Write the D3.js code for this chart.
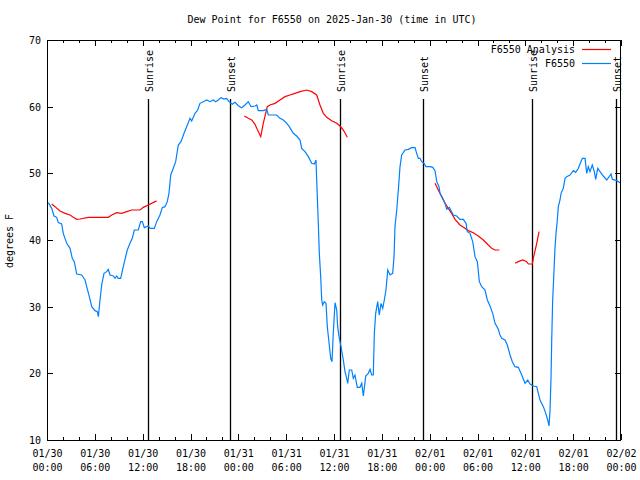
<!DOCTYPE html>
<html>
<head>
<meta charset="utf-8">
<script src="https://cdn.jsdelivr.net/npm/d3@7"></script>
<style>
  html, body { margin: 0; padding: 0; background: #fff; }
  svg { display: block; }
  text { font-family: "DejaVu Sans Mono", "Liberation Mono", monospace; font-size: 10px; fill: #000; }
</style>
</head>
<body>
<svg id="chart" width="640" height="480"></svg>
<script>
// ---- data (hours after 2025-01-30 00:00 UTC, dew point in °F) ----
const stationHours = [0.16,0.59,0.88,1.22,1.42,1.84,2.04,2.47,2.89,3.17,3.42,3.73,4.35,4.77,4.98,5.31,5.61,6.02,6.31,6.44,6.65,6.86,7.15,7.49,7.69,7.90,8.32,8.53,8.74,8.94,9.24,9.57,10.07,10.41,10.70,10.95,11.45,11.75,11.95,12.21,12.71,12.92,13.46,13.76,14.17,14.46,14.80,15.09,15.30,15.52,15.84,16.14,16.47,16.81,17.19,17.52,17.94,18.15,18.57,18.90,19.19,19.61,20.03,20.45,20.86,21.16,21.49,21.83,22.20,22.54,22.83,23.24,23.58,24.00,24.42,24.84,25.25,25.59,26.09,26.31,26.51,27.13,27.56,27.76,28.81,29.23,29.64,30.07,30.39,30.90,31.32,31.74,31.95,32.36,32.78,33.20,33.53,33.74,33.83,34.03,34.16,34.33,34.46,34.58,34.78,35.00,35.16,35.34,35.59,35.75,35.91,36.13,36.34,36.46,36.63,36.84,37.17,37.38,37.59,37.72,37.92,38.22,38.42,38.63,38.92,39.26,39.48,39.68,39.98,40.30,40.52,40.73,40.93,41.06,41.23,41.48,41.68,41.90,42.11,42.31,42.52,42.74,43.03,43.36,43.53,43.65,43.87,44.07,44.28,44.49,44.91,45.32,45.75,46.16,46.37,46.58,46.79,47.00,47.29,47.54,48.04,48.38,48.67,48.89,49.17,49.30,49.64,49.93,50.14,50.46,50.76,50.96,51.39,51.80,52.22,52.56,52.72,53.06,53.40,53.69,53.98,54.23,54.53,54.94,55.23,55.57,55.91,56.20,56.61,56.82,57.04,57.45,57.74,58.08,58.37,58.70,59.12,59.55,59.96,60.30,60.59,61.00,61.43,61.63,61.84,62.26,62.56,62.81,62.97,63.10,63.22,63.31,63.43,63.60,63.72,63.85,64.01,64.14,64.35,64.48,64.76,64.98,65.19,65.60,66.02,66.32,66.65,66.86,67.15,67.49,67.70,67.90,68.11,68.40,68.65,68.83,69.08,69.37,69.78,70.21,70.75,70.91,71.46,71.88];
const stationDew = [45.6,44.75,43.6,43.4,42.6,42.4,41.0,39.5,38.75,37.25,36.75,34.9,34.75,34.0,33.0,31.5,30.0,29.4,29.25,28.5,31.0,33.25,35.0,35.25,35.6,34.75,34.6,34.25,34.6,34.25,34.25,36.0,38.5,39.5,40.25,41.5,41.5,42.75,42.75,41.85,42.1,41.75,41.75,42.75,43.75,44.85,45.0,45.75,47.0,49.75,50.75,51.75,54.25,54.75,56.0,57.0,58.25,57.85,59.0,59.5,60.5,60.75,61.0,60.75,61.0,60.75,61.0,61.35,61.15,61.25,60.75,60.35,60.65,60.15,59.85,60.25,60.75,60.0,60.1,60.25,59.4,59.4,59.6,58.75,58.75,58.25,58.0,57.5,57.0,56.0,55.6,55.0,53.75,53.25,52.5,51.5,51.4,52.0,49.0,42.5,38.0,34.5,31.0,30.25,30.75,30.5,27.0,25.0,22.25,21.75,26.0,30.6,29.5,27.0,25.5,24.25,22.0,20.25,19.25,18.5,20.5,20.5,19.25,19.75,17.9,17.9,18.5,16.6,19.6,20.0,20.6,19.75,19.75,26.0,29.0,30.75,28.75,30.5,29.75,31.0,32.5,35.5,34.75,35.0,37.5,42.0,44.5,47.5,51.0,52.75,53.5,53.6,53.85,53.85,53.0,52.25,52.25,51.75,51.5,51.0,51.0,50.9,50.4,48.75,48.0,47.0,46.25,45.5,44.6,44.9,44.25,43.75,43.6,43.1,43.1,42.5,41.25,41.0,39.75,37.5,36.75,33.75,33.0,32.5,31.0,30.1,29.0,27.5,26.6,25.75,25.25,25.0,24.25,22.75,21.75,21.0,20.9,19.75,18.5,19.0,18.4,18.1,18.0,17.0,16.0,15.0,14.0,13.0,12.1,14.5,19.25,25.0,31.0,35.5,38.75,41.0,43.0,45.0,46.0,47.0,47.75,49.25,49.5,49.75,50.4,50.15,50.75,51.4,52.25,52.25,50.0,51.0,50.25,51.25,50.25,49.1,50.75,50.25,49.6,49.0,49.9,49.1,48.9,48.6];

// analysis series; null marks a gap in the line
const analysisHours = [0.59,1.00,1.63,2.26,2.89,3.30,3.73,4.14,5.18,7.69,8.12,8.74,9.37,10.00,10.62,11.67,12.08,12.71,13.55,13.76,
  19.0,
  24.75,25.25,25.68,26.09,26.31,26.81,27.13,27.63,27.97,28.60,29.23,29.85,30.48,31.11,31.74,32.58,33.20,33.83,34.24,34.66,35.09,35.71,36.34,36.75,37.17,37.67,
  43.0,
  48.67,49.08,49.51,49.93,50.34,50.76,51.18,51.80,52.43,52.85,53.47,54.10,54.73,55.23,55.78,56.20,56.74,
  57.7,
  58.70,59.12,59.67,60.17,60.38,60.88,61.00,61.43,61.72];
const analysisDew = [45.4,45.0,44.35,44.0,43.75,43.4,43.1,43.15,43.4,43.4,43.75,44.1,44.0,44.25,44.5,44.5,44.9,45.25,45.75,45.85,
  null,
  58.6,58.25,58.0,57.35,56.75,55.5,57.5,60.0,60.25,60.5,61.0,61.5,61.75,62.0,62.25,62.5,62.25,61.75,60.25,59.0,58.4,57.9,57.5,57.1,56.5,55.4,
  null,
  48.5,47.5,46.5,45.5,44.75,44.0,43.1,42.25,41.75,41.4,41.1,40.6,40.0,39.4,38.75,38.5,38.5,
  null,
  36.5,36.75,37.0,36.75,36.4,36.4,37.25,39.5,41.25];

// sun events (hours after start)
const sunHours = [12.71, 22.98, 36.79, 47.20, 60.87, 71.34];
const sunLabels = ["Sunrise", "Sunset", "Sunrise", "Sunset", "Sunrise", "Sunset"];

const yTicks = [10, 20, 30, 40, 50, 60, 70];
const seriesNames = ["F6550 Analysis", "F6550"];
const seriesColors = ["#ff0000", "#0080ff"];
const titleText = "Dew Point for F6550 on 2025-Jan-30 (time in UTC)";
const yLabelText = "degrees F";

// ---- drawing ----
const t0 = Date.UTC(2025, 0, 30);
const toDate = h => new Date(t0 + h * 3600000);
const L = 47, R = 621, T = 40, B = 440;

const svg = d3.select("#chart");
const x = d3.scaleUtc().domain([toDate(0), toDate(72)]).range([L, R]);
const y = d3.scaleLinear().domain([10, 70]).range([B, T]);

const majorTicks = d3.range(0, 73, 6).map(toDate);
const minorTicks = d3.range(0, 73, 2).filter(h => h % 6 !== 0).map(toDate);

function styleAxis(g) {
  g.select(".domain").remove();
  g.selectAll("line").attr("stroke", "#000").attr("shape-rendering", "crispEdges");
}

// bottom axis (major, inward ticks)
const gB = svg.append("g").attr("transform", `translate(0,${B})`)
  .call(d3.axisBottom(x).tickValues(majorTicks).tickSizeInner(-6).tickSizeOuter(0).tickFormat(""))
  .call(styleAxis);
gB.selectAll(".tick text").remove();
gB.selectAll(".tick").each(function(d) {
  const t = d3.select(this).append("text").attr("text-anchor", "middle").attr("y", 17);
  t.append("tspan").attr("x", 0).text(d3.utcFormat("%m/%d")(d));
  t.append("tspan").attr("x", 0).attr("dy", 14).text(d3.utcFormat("%H:%M")(d));
});
svg.append("g").attr("transform", `translate(0,${B})`)
  .call(d3.axisBottom(x).tickValues(minorTicks).tickSizeInner(-3).tickSizeOuter(0).tickFormat(""))
  .call(styleAxis);
// top axis (mirror)
svg.append("g").attr("transform", `translate(0,${T})`)
  .call(d3.axisTop(x).tickValues(majorTicks).tickSizeInner(-6).tickSizeOuter(0).tickFormat(""))
  .call(styleAxis);
svg.append("g").attr("transform", `translate(0,${T})`)
  .call(d3.axisTop(x).tickValues(minorTicks).tickSizeInner(-3).tickSizeOuter(0).tickFormat(""))
  .call(styleAxis);
// left axis
const gL = svg.append("g").attr("transform", `translate(${L},0)`)
  .call(d3.axisLeft(y).tickValues(yTicks).tickSizeInner(-6).tickSizeOuter(0).tickPadding(6).tickFormat(d3.format("d")))
  .call(styleAxis);
gL.selectAll(".tick text").attr("x", -6).attr("dy", "0.35em").style("font-family", null).style("font-size", null)
  .attr("font-family", null).attr("font-size", null);
// right axis (mirror)
svg.append("g").attr("transform", `translate(${R},0)`)
  .call(d3.axisRight(y).tickValues(yTicks).tickSizeInner(-6).tickSizeOuter(0).tickFormat(""))
  .call(styleAxis);

svg.selectAll("g").attr("font-family", null).attr("font-size", null);

// sun lines
const sunG = svg.append("g");
sunHours.forEach((h, i) => {
  const xp = Math.round(x(toDate(h))) + 0.5;
  sunG.append("line").attr("x1", xp).attr("x2", xp).attr("y1", 99).attr("y2", B)
    .attr("stroke", "#000").attr("stroke-width", 1.3);
  sunG.append("text").attr("transform", `translate(${xp + 1},92) rotate(-90)`)
    .attr("dy", "0.35em").attr("text-anchor", "start").text(sunLabels[i]);
});

// series lines
const line = d3.line()
  .defined(d => d.v !== null)
  .x(d => x(toDate(d.h)))
  .y(d => y(d.v));

const analysisData = analysisHours.map((h, i) => ({ h, v: analysisDew[i] }));
const stationData = stationHours.map((h, i) => ({ h, v: stationDew[i] }));

svg.append("path").datum(analysisData).attr("d", line)
  .attr("fill", "none").attr("stroke", seriesColors[0]).attr("stroke-width", 1.2);
svg.append("path").datum(stationData).attr("d", line)
  .attr("fill", "none").attr("stroke", seriesColors[1]).attr("stroke-width", 1.2);

// border
svg.append("rect").attr("x", L + 0.5).attr("y", T + 0.5).attr("width", R - L - 1).attr("height", B - T)
  .attr("fill", "none").attr("stroke", "#000").attr("shape-rendering", "crispEdges");

// legend
seriesNames.forEach((name, i) => {
  const ly = 49 + i * 14;
  svg.append("text").attr("x", 575).attr("y", ly).attr("dy", "0.35em").attr("text-anchor", "end").text(name);
  svg.append("line").attr("x1", 582).attr("x2", 611).attr("y1", ly + 0.5).attr("y2", ly + 0.5)
    .attr("stroke", seriesColors[i]).attr("stroke-width", 1.2);
});

// title
svg.append("text").attr("x", 332).attr("y", 23).attr("text-anchor", "middle").text(titleText);

// y label
svg.append("text").attr("transform", "translate(13,241) rotate(-90)")
  .attr("text-anchor", "middle").text(yLabelText);
</script>
</body>
</html>
